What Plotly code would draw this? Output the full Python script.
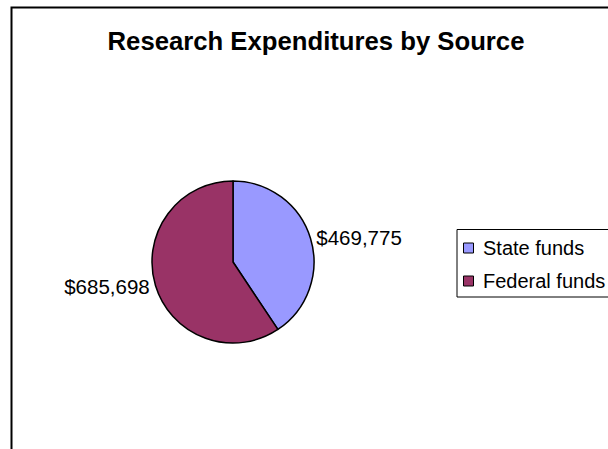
import plotly.graph_objects as go

W, H = 608, 449

categories = ["State funds", "Federal funds"]
values = [469775, 685698]
colors = ["#9999FF", "#993366"]
title_text = "Research Expenditures by Source"

def px(x):
    return x / W

def py(y):
    return 1 - y / H

FONT = "Liberation Sans, Arial, sans-serif"

fig = go.Figure()
fig.add_trace(go.Pie(
    labels=categories,
    values=values,
    sort=False,
    direction="clockwise",
    rotation=0,
    marker=dict(colors=colors, line=dict(color="#000000", width=1.5)),
    texttemplate="$%{value:,.0f}",
    textposition="outside",
    textfont=dict(family=FONT, size=20.5, color="#000000"),
    domain=dict(x=[px(152), px(314)], y=[py(343), py(181)]),
    hoverinfo="label+value",
    showlegend=False,
))

shapes = [
    dict(type="rect", xref="paper", yref="paper",
         x0=px(11.5), x1=px(W + 20), y0=py(H + 20), y1=py(7.5),
         line=dict(color="#000000", width=2), fillcolor="rgba(0,0,0,0)", layer="below"),
    dict(type="rect", xref="paper", yref="paper",
         x0=px(457), x1=px(W + 20), y0=py(297), y1=py(229.5),
         line=dict(color="#000000", width=1), fillcolor="rgba(0,0,0,0)", layer="below"),
]
annotations = []
row_y = [248, 281]
for name, col, cy in zip(categories, colors, row_y):
    shapes.append(dict(type="rect", xref="paper", yref="paper",
                       x0=px(463.5), x1=px(473.5), y0=py(cy + 5), y1=py(cy - 5),
                       line=dict(color="#000000", width=1), fillcolor=col))
    annotations.append(dict(xref="paper", yref="paper", x=px(481), y=py(cy),
                            xanchor="left", yanchor="middle", showarrow=False,
                            text=name, font=dict(family=FONT, size=20, color="#000000")))

fig.update_layout(
    width=W, height=H,
    margin=dict(l=0, r=0, t=0, b=0, autoexpand=False),
    paper_bgcolor="#FFFFFF",
    plot_bgcolor="#FFFFFF",
    showlegend=False,
    title=dict(
        text="<b>" + title_text + "</b>",
        x=px(316), xanchor="center",
        y=py(41.5), yanchor="middle",
        font=dict(family=FONT, size=25.7, color="#000000"),
    ),
    shapes=shapes,
    annotations=annotations,
)

fig.write_html("out.html")
